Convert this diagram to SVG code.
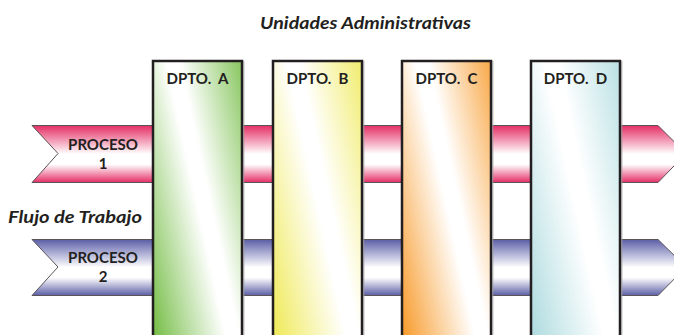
<svg xmlns="http://www.w3.org/2000/svg" width="674" height="335" viewBox="0 0 674 335">
  <defs>
    <linearGradient id="gPink" x1="0" y1="0" x2="0" y2="1">
      <stop offset="0" stop-color="#e52e66"/>
      <stop offset="0.15" stop-color="#ec6d92"/>
      <stop offset="0.5" stop-color="#ffffff"/>
      <stop offset="0.68" stop-color="#ffffff"/>
      <stop offset="1" stop-color="#e52e66"/>
    </linearGradient>
    <linearGradient id="gBlue" x1="0" y1="0" x2="0" y2="1">
      <stop offset="0" stop-color="#5b5ea6"/>
      <stop offset="0.15" stop-color="#8f91c4"/>
      <stop offset="0.5" stop-color="#ffffff"/>
      <stop offset="0.68" stop-color="#ffffff"/>
      <stop offset="1" stop-color="#5b5ea6"/>
    </linearGradient>
    <!-- column fills: diagonal sweep, colour at bottom-left and top-right, white between;
         coordinates are local to each translated column group -->
    <linearGradient id="gGreen" gradientUnits="userSpaceOnUse" x1="-30" y1="156" x2="130" y2="121">
      <stop offset="0" stop-color="#6cb93a"/>
      <stop offset="0.46" stop-color="#ffffff"/>
      <stop offset="0.54" stop-color="#ffffff"/>
      <stop offset="1" stop-color="#6cb93a"/>
    </linearGradient>
    <linearGradient id="gYellow" href="#gGreen">
      <stop offset="0" stop-color="#eee84c"/>
      <stop offset="0.46" stop-color="#ffffff"/>
      <stop offset="0.54" stop-color="#ffffff"/>
      <stop offset="1" stop-color="#eee84c"/>
    </linearGradient>
    <linearGradient id="gOrange" href="#gGreen">
      <stop offset="0" stop-color="#f7941d"/>
      <stop offset="0.46" stop-color="#ffffff"/>
      <stop offset="0.54" stop-color="#ffffff"/>
      <stop offset="1" stop-color="#f7941d"/>
    </linearGradient>
    <linearGradient id="gTeal" href="#gGreen">
      <stop offset="0" stop-color="#a9d9dd"/>
      <stop offset="0.46" stop-color="#ffffff"/>
      <stop offset="0.54" stop-color="#ffffff"/>
      <stop offset="1" stop-color="#a9d9dd"/>
    </linearGradient>
  </defs>
  <style>
    .bar { stroke: #5a5358; stroke-width: 1; }
    .col { stroke: #231f20; stroke-width: 2.5; }
    .shade { fill: none; stroke: #9a9a9a; stroke-width: 1; }
    .lbl { font-family: Lato, "Liberation Sans", Arial, sans-serif; font-weight: bold; font-size: 15px; fill: #231f20; text-anchor: middle; white-space: pre; }
    .ttl { font-family: Lato, "Liberation Sans", Arial, sans-serif; font-weight: bold; font-style: italic; font-size: 17px; fill: #231f20; }
  </style>

  <rect width="674" height="335" fill="#ffffff"/>

  <text class="ttl" x="260" y="29" textLength="211" lengthAdjust="spacingAndGlyphs">Unidades Administrativas</text>
  <text class="ttl" x="8" y="223" textLength="134" lengthAdjust="spacingAndGlyphs">Flujo de Trabajo</text>

  <!-- process ribbons -->
  <g id="proceso1">
    <path class="bar" fill="url(#gPink)" d="M32,125.5 L658,125.5 L686,153.5 L658,182.5 L32,182.5 L58,153.5 Z"/>
    <text class="lbl" x="103" y="150">PROCESO</text>
    <text class="lbl" x="103" y="168.5">1</text>
  </g>
  <g id="proceso2">
    <path class="bar" fill="url(#gBlue)" d="M32,239.5 L658,239.5 L686,267 L658,295.5 L32,295.5 L58,267 Z"/>
    <text class="lbl" x="103" y="263">PROCESO</text>
    <text class="lbl" x="103" y="282">2</text>
  </g>

  <!-- department columns -->
  <g id="dptoA" transform="translate(153,61)">
    <rect class="col" fill="url(#gGreen)" x="0" y="0" width="89" height="290"/>
    <line class="shade" x1="90.8" y1="0" x2="90.8" y2="290"/>
    <text class="lbl" x="44.5" y="23">DPTO.  A</text>
  </g>
  <g id="dptoB" transform="translate(273,61)">
    <rect class="col" fill="url(#gYellow)" x="0" y="0" width="89" height="290"/>
    <line class="shade" x1="90.8" y1="0" x2="90.8" y2="290"/>
    <text class="lbl" x="44.5" y="23">DPTO.  B</text>
  </g>
  <g id="dptoC" transform="translate(402,61)">
    <rect class="col" fill="url(#gOrange)" x="0" y="0" width="89" height="290"/>
    <line class="shade" x1="90.8" y1="0" x2="90.8" y2="290"/>
    <text class="lbl" x="44.5" y="23">DPTO.  C</text>
  </g>
  <g id="dptoD" transform="translate(531,61)">
    <rect class="col" fill="url(#gTeal)" x="0" y="0" width="89" height="290"/>
    <line class="shade" x1="90.8" y1="0" x2="90.8" y2="290"/>
    <text class="lbl" x="44.5" y="23">DPTO.  D</text>
  </g>
</svg>
